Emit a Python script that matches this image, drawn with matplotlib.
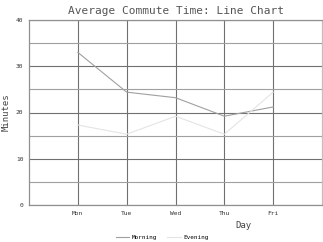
import matplotlib.pyplot as plt
from matplotlib.ticker import MultipleLocator

# Data
days = ["Mon", "Tue", "Wed", "Thu", "Fri"]
morning = [33.0, 24.4, 23.2, 19.2, 21.2]
evening = [17.3, 15.3, 19.2, 15.3, 24.4]
y_ticks = [0, 10, 20, 30, 40]

plt.rcParams["font.family"] = "DejaVu Sans Mono"

fig = plt.figure(figsize=(3.23, 2.42), dpi=100)
ax = fig.add_axes([29 / 323, 37 / 242, 293 / 323, 185 / 242])

x = list(range(1, len(days) + 1))
ax.plot(x, morning, color="#a0a0a0", lw=0.8, label="Morning")
ax.plot(x, evening, color="#e4e4e4", lw=0.8, label="Evening")

ax.set_xlim(0, len(days) + 1)
ax.set_ylim(0, 40)
ax.set_xticks(x)
ax.set_xticklabels(days)
ax.set_yticks(y_ticks)
ax.yaxis.set_minor_locator(MultipleLocator(5))

ax.grid(which="major", color="#707070", lw=0.8)
ax.grid(which="minor", axis="y", color="#a0a0a0", lw=0.8)
ax.set_axisbelow(True)
ax.tick_params(which="both", length=0, labelsize=4.5, colors="#333333", pad=4)
for side, spine in ax.spines.items():
    spine.set_color("#909090")
    spine.set_linewidth(0.9)
ax.spines["right"].set_color("#c0c0c0")

ax.set_title("Average Commute Time: Line Chart", fontsize=8, color="#555555", pad=4)
fig.text(6 / 323, 1 - 112 / 242, "Minutes", fontsize=6.5, color="#444444",
         ha="center", va="center", rotation=90)
fig.text(243 / 323, 1 - 225 / 242, "Day", fontsize=6.5, color="#444444",
         ha="center", va="center")

fig.legend(loc="center", bbox_to_anchor=(162 / 323, 1 - 237 / 242), ncol=2,
           frameon=False, fontsize=4.3, handlelength=2.2, handletextpad=0.4,
           columnspacing=1.8)

fig.savefig("out.png", dpi=100)
